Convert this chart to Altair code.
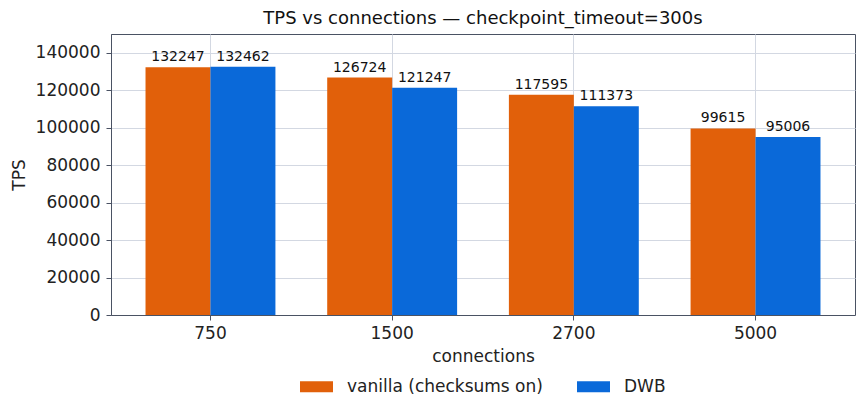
import altair as alt
import pandas as pd

connections = ["750", "1500", "2700", "5000"]
vanilla = [132247, 126724, 117595, 99615]
dwb = [132462, 121247, 111373, 95006]
series_names = ["vanilla (checksums on)", "DWB"]
colors = ["#e1600a", "#0a69d9"]

rows = []
for c, v, d in zip(connections, vanilla, dwb):
    rows.append({"connections": c, "series": series_names[0], "TPS": v})
    rows.append({"connections": c, "series": series_names[1], "TPS": d})
df = pd.DataFrame(rows)

FONT = "DejaVu Sans"
frame = "#4a5263"
grid = "#d3d8e2"

x_enc = alt.X(
    "connections:N",
    sort=connections,
    title="connections",
    scale=alt.Scale(paddingInner=0.285, paddingOuter=0.19),
    axis=alt.Axis(
        labelAngle=0, bandPosition=0.5, grid=True, gridColor=grid,
        tickSize=5, tickColor=frame, domainColor=frame, labelPadding=5,
        labelFontSize=17, titleFontSize=17, titlePadding=7,
        labelColor="#222", titleColor="#222", titleFontWeight="normal",
    ),
)
xo = alt.XOffset("series:N", sort=series_names, scale=alt.Scale(paddingInner=0, paddingOuter=0))
y_enc = alt.Y(
    "TPS:Q",
    title="TPS",
    scale=alt.Scale(domain=[0, 150000], nice=False),
    axis=alt.Axis(
        values=list(range(0, 140001, 20000)), format="d", grid=True, gridColor=grid,
        tickSize=5, tickColor=frame, domainColor=frame, labelPadding=6,
        labelFontSize=17, titleFontSize=17, titlePadding=7,
        labelColor="#222", titleColor="#222", titleFontWeight="normal",
    ),
)

bars = alt.Chart(df).mark_bar(stroke=None).encode(
    x=x_enc,
    xOffset=xo,
    y=y_enc,
    color=alt.Color(
        "series:N",
        sort=series_names,
        scale=alt.Scale(domain=series_names, range=colors),
        legend=alt.Legend(
            title=None, orient="none", direction="horizontal",
            legendX=189, legendY=336,
            symbolType="M-1,-0.33H1V0.33H-1Z", symbolSize=1089,
            symbolStrokeWidth=0, symbolOpacity=1,
            labelFontSize=17, labelOffset=14, columnPadding=34, labelLimit=0,
            labelColor="#222", labelFont=FONT,
        ),
    ),
)

labels = alt.Chart(df).mark_text(baseline="alphabetic", dy=-6, fontSize=14, color="#111", font=FONT).encode(
    x=alt.X("connections:N", sort=connections),
    xOffset=alt.XOffset("series:N", sort=series_names),
    y="TPS:Q",
    text=alt.Text("TPS:Q", format="d"),
)

chart = alt.layer(bars, labels).properties(
    width=744,
    height=281,
    title=alt.TitleParams(
        "TPS vs connections — checkpoint_timeout=300s",
        fontSize=18, fontWeight="normal", font=FONT, color="#111", offset=6,
    ),
    autosize=alt.AutoSizeParams(type="none"),
    padding={"left": 103, "top": 26, "right": 2, "bottom": 84},
).configure(font=FONT).configure_view(stroke=frame, strokeWidth=1).configure_axis(
    labelFont=FONT, titleFont=FONT
)

chart.save("out.html", embed_options={"renderer": "svg", "actions": False})
